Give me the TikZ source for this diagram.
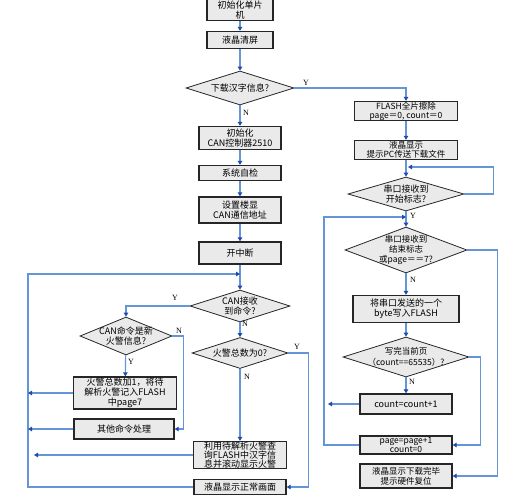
\documentclass[tikz,border=0pt]{standalone}
\usepackage{fontspec}
\setmainfont{Liberation Serif}
\newfontfamily\cjk{Noto Sans CJK SC}
\usetikzlibrary{positioning,shapes.geometric,arrows.meta}
\definecolor{lineblue}{RGB}{100,150,215}
\definecolor{tipblue}{RGB}{30,75,175}
\definecolor{boxgray}{RGB}{234,234,234}

\tikzset{
  box/.style={draw=black!85,line width=1.3pt,fill=boxgray,inner sep=0pt,align=center,
    font=\cjk\fontsize{9}{10}\selectfont},
  dec/.style={diamond,draw=black!85,line width=0.8pt,fill=boxgray,inner sep=0pt},
  dectext/.style={align=center,inner sep=0pt,font=\cjk\fontsize{9}{10.5}\selectfont},
  conn/.style={draw=lineblue,line width=1.2pt},
  arr/.style={conn,-{Triangle[length=4pt,width=4.5pt,color=tipblue]}},
  yn/.style={font=\fontsize{8}{8}\selectfont,inner sep=0pt}
}

\begin{document}
\begin{tikzpicture}[x=1pt,y=-1pt]
\useasboundingbox (0,0) rectangle (526,498);

% main column
\node[box,minimum width=66,minimum height=21] (init) at (240,10) {初始化单片\\机};
\node[box,minimum width=66,minimum height=17] (lcd) at (240,40) {液晶清屏};
\node[dec,minimum width=108,minimum height=34] (dl) at (240,88) {};
\node[dectext] (dlt) at (dl) {下载汉字信息?};
\node[box,minimum width=82,minimum height=23] (can) at (240,138) {初始化\\CAN控制器2510};
\node[box,minimum width=82,minimum height=15] (self) at (240,173) {系统自检};
\node[box,minimum width=82,minimum height=26] (addr) at (240,210) {设置楼显\\CAN通信地址};
\node[box,minimum width=82,minimum height=22] (int) at (240,253) {开中断};
\node[dec,minimum width=100,minimum height=32] (rcv) at (240,306) {};
\node[dectext] (rcvt) at (rcv) {CAN接收\\到命令?};
\node[dec,minimum width=96,minimum height=31] (zero) at (240,353) {};
\node[dectext] (zerot) at (zero) {火警总数为0?};
\node[box,minimum width=93,minimum height=27,font=\cjk\fontsize{9}{9.2}\selectfont] (show) at (240,455) {利用待解析火警查\\询FLASH中汉字信\\息并滚动显示火警};
\node[box,minimum width=92,minimum height=15] (normal) at (240,487) {液晶显示正常画面};

% left branch
\node[dec,minimum width=92,minimum height=38] (new) at (126,336) {};
\node[dectext] (newt) at (new) {CAN命令是新\\火警信息?};
\node[box,minimum width=103,minimum height=32,font=\cjk\fontsize{9}{10}\selectfont] (add) at (125,393) {火警总数加1，将待\\解析火警记入FLASH\\中page7};
\node[box,minimum width=100,minimum height=20] (other) at (124,429) {其他命令处理};

% right column
\node[box,minimum width=103,minimum height=19,font=\cjk\fontsize{8.5}{9}\selectfont] (erase) at (406,111) {FLASH全片擦除\\page＝0, count＝0};
\node[box,minimum width=103,minimum height=19,font=\cjk\fontsize{8.5}{9}\selectfont] (tip) at (406,150) {液晶显示\\提示PC传送下载文件};
\node[dec,minimum width=116,minimum height=34] (start) at (406,194) {};
\node[dectext] (startt) at (start) {串口接收到\\开始标志?};
\node[dec,minimum width=122,minimum height=46] (end) at (406,250) {};
\node[dectext,font=\cjk\fontsize{8.5}{10}\selectfont] (endt) at (end) {串口接收到\\结束标志\\或page＝＝7?};
\node[box,minimum width=106,minimum height=27] (write) at (406,309) {将串口发送的一个\\byte写入FLASH};
\node[dec,minimum width=126,minimum height=40] (page) at (406,357) {};
\node[dectext,font=\cjk\fontsize{8.5}{10.5}\selectfont] (paget) at (page) {写完当前页\\（count==65535）?};
\node[box,minimum width=92,minimum height=20] (cnt) at (406,404) {count=count+1};
\node[box,minimum width=92,minimum height=18,font=\cjk\fontsize{8.5}{9}\selectfont] (pg) at (406,445) {page=page+1\\count=0};
\node[box,minimum width=92,minimum height=24,font=\cjk\fontsize{8.5}{10}\selectfont] (done) at (406,476) {液晶显示下载完毕\\提示硬件复位};

% loop points
\coordinate (ll) at (28,274);
\coordinate (mloop) at (240,274);
\coordinate (rl) at (324,217);
\coordinate (eloop) at (406,217);
\coordinate (sloop) at (406,167);

% main connectors
\draw[arr] (init) -- (lcd);
\draw[arr] (lcd) -- (dl);
\draw[arr] (dl) -- (can);
\draw[arr] (can) -- (self);
\draw[arr] (self) -- (addr);
\draw[arr] (addr) -- (int);
\draw[arr] (int) -- (rcv);
\draw[arr] (rcv) -- (zero);
\draw[arr] (zero) -- (show);
\draw[arr] (normal.west) -| (ll) -- (mloop);
\draw[arr] (zero.east) -- ++(20,0) |- (normal.east);

% left connectors
\draw[arr] (rcv.west) -| (new.north);
\draw[arr] (new) -- (add);
\draw[arr] (new.east) -- ++(11,0) |- (other.east);
\draw[arr] (add.west) -- (add.west -| ll);
\draw[arr] (other.west) -- (other.west -| ll);
\draw[arr] (show.west) -- ([xshift=6]show.west -| ll);

% right connectors
\draw[arr] (dl.east) -| (erase.north);
\draw[arr] (erase) -- (tip);
\draw[arr] (tip) -- (start);
\draw[arr] (start.east) -- ++(29,0) |- ([xshift=2]sloop);
\draw[arr] (start) -- (end);
\draw[arr] (pg.west) -| (rl) -- (eloop);
\draw[arr] (end.east) -- ++(30,0) |- (done.east);
\draw[arr] (end) -- (write);
\draw[arr] (write) -- (page);
\draw[arr] (page) -- (cnt);
\draw[arr] (page.east) -- ++(11,0) |- (pg.east);
\draw[arr] (cnt.west) -- ([xshift=4]cnt.west -| rl);

% Y / N labels
\node[yn] (y1) at (306,83) {Y};
\node[yn] (n1) at (246,113) {N};
\node[yn] (y2) at (175,298) {Y};
\node[yn] (n2) at (245,324) {N};
\node[yn] (n3) at (179,331) {N};
\node[yn] (y3) at (131,362) {Y};
\node[yn] (y4) at (297,347) {Y};
\node[yn] (n4) at (247,377) {N};
\node[yn] (y5) at (413,216) {Y};
\node[yn] (n5) at (413,280) {N};
\node[yn] (n6) at (412,382) {N};
\end{tikzpicture}
\end{document}
